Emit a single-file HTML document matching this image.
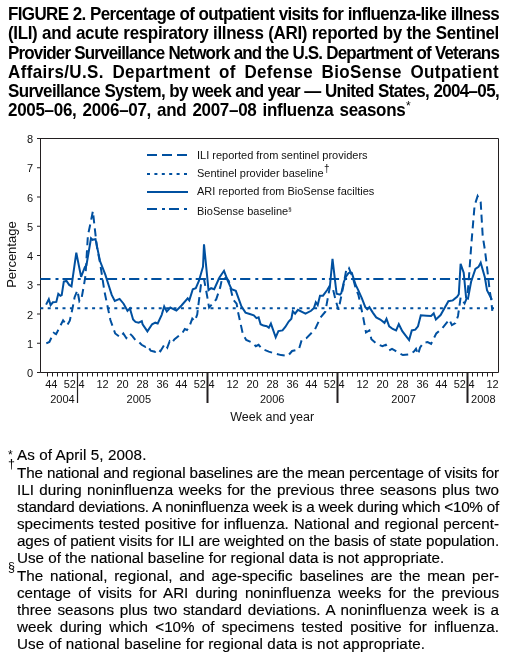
<!DOCTYPE html><html><head><meta charset="utf-8"><style>
html,body{margin:0;padding:0;background:#fff;}
body{width:511px;height:662px;position:relative;overflow:hidden;color:#000;font-family:"Liberation Sans",sans-serif;}
.t{will-change:transform;position:absolute;left:7.8px;width:491px;font-weight:bold;font-size:17px;line-height:19px;white-space:nowrap;text-align:justify;text-align-last:justify;}
.f{-webkit-text-stroke:0.15px #000;will-change:transform;position:absolute;left:17px;width:482px;font-size:15.2px;line-height:17px;white-space:nowrap;}
.j{text-align:justify;text-align-last:justify;}
.s{will-change:transform;position:absolute;font-size:11px;}
svg{position:absolute;left:0;top:0;will-change:transform;}
.ax{font-size:11px;fill:#111;}
.lab{font-size:12.5px;fill:#111;}
.leg{font-size:11px;fill:#111;}

</style></head><body>
<div class="t" style="top:5.11px;letter-spacing:-0.65px;transform-origin:0 15.49px;transform:scaleY(1.055)">FIGURE 2. Percentage of outpatient visits for influenza-like illness</div>
<div class="t" style="top:24.35px;letter-spacing:-0.35px;transform-origin:0 15.49px;transform:scaleY(1.055)">(ILI) and acute respiratory illness (ARI) reported by the Sentinel</div>
<div class="t" style="top:43.59px;letter-spacing:-0.85px;transform-origin:0 15.49px;transform:scaleY(1.055)">Provider Surveillance Network and the U.S. Department of Veterans</div>
<div class="t" style="top:62.83px;letter-spacing:0.35px;transform-origin:0 15.49px;transform:scaleY(1.055)">Affairs/U.S. Department of Defense BioSense Outpatient</div>
<div class="t" style="top:82.07px;letter-spacing:-0.67px;transform-origin:0 15.49px;transform:scaleY(1.055)">Surveillance System, by week and year — United States, 2004–05,</div>
<div class="t" style="top:101.31px;letter-spacing:-0.3px;word-spacing:1.6px;text-align:left;text-align-last:left;transform-origin:0 15.49px;transform:scaleY(1.055)">2005–06, 2006–07, and 2007–08 influenza seasons</div>
<div class="s" style="left:405.5px;top:99px;font-size:12px;font-weight:normal">*</div>
<div class="f" style="top:445.82px;letter-spacing:0.1px;transform-origin:0 13.78px;transform:none;">As of April 5, 2008.</div>
<div class="s" style="left:8.0px;top:447.62px;font-size:12px">*</div>
<div class="f j" style="top:463.62px;letter-spacing:-0.13px;transform-origin:0 13.78px;transform:none;">The national and regional baselines are the mean percentage of visits for</div>
<div class="f j" style="top:480.78px;letter-spacing:0px;transform-origin:0 13.78px;transform:none;">ILI during noninfluenza weeks for the previous three seasons plus two</div>
<div class="f j" style="top:497.94px;letter-spacing:-0.21px;transform-origin:0 13.78px;transform:none;">standard deviations. A noninfluenza week is a week during which &lt;10% of</div>
<div class="f j" style="top:515.10px;letter-spacing:0px;transform-origin:0 13.78px;transform:none;">speciments tested positive for influenza. National and regional percent-</div>
<div class="f j" style="top:532.26px;letter-spacing:-0.13px;transform-origin:0 13.78px;transform:none;">ages of patient visits for ILI are weighted on the basis of state population.</div>
<div class="f" style="top:549.42px;letter-spacing:0px;transform-origin:0 13.78px;transform:none;">Use of the national baseline for regional data is not appropriate.</div>
<div class="f j" style="top:566.58px;letter-spacing:0px;transform-origin:0 13.78px;transform:none;">The national, regional, and age-specific baselines are the mean per-</div>
<div class="f j" style="top:583.74px;letter-spacing:0px;transform-origin:0 13.78px;transform:none;">centage of visits for ARI during noninfluenza weeks for the previous</div>
<div class="f j" style="top:600.90px;letter-spacing:0px;transform-origin:0 13.78px;transform:none;">three seasons plus two standard deviations. A noninfluenza week is a</div>
<div class="f j" style="top:618.06px;letter-spacing:0px;transform-origin:0 13.78px;transform:none;">week during which &lt;10% of specimens tested positive for influenza.</div>
<div class="f" style="top:635.22px;letter-spacing:0.1px;transform-origin:0 13.78px;transform:none;">Use of national baseline for regional data is not appropriate.</div>
<div class="s" style="left:8.3px;top:457.12px;font-size:12.5px">†</div>
<div class="s" style="left:8.0px;top:560.38px;font-size:12.5px">§</div>
<svg width="511" height="662" viewBox="0 0 511 662" style="font-family:'Liberation Sans',sans-serif"><path d="M40.5 138 V372.5 H498.5 V138.5 H40" fill="none" stroke="#231f20" stroke-width="1"/>
<line x1="37" y1="372.5" x2="40.5" y2="372.5" stroke="#231f20" stroke-width="1"/>
<text x="33" y="377.10" text-anchor="end" class="ax">0</text>
<line x1="37" y1="343.25" x2="40.5" y2="343.25" stroke="#231f20" stroke-width="1"/>
<text x="33" y="347.85" text-anchor="end" class="ax">1</text>
<line x1="37" y1="314.0" x2="40.5" y2="314.0" stroke="#231f20" stroke-width="1"/>
<text x="33" y="318.60" text-anchor="end" class="ax">2</text>
<line x1="37" y1="284.75" x2="40.5" y2="284.75" stroke="#231f20" stroke-width="1"/>
<text x="33" y="289.35" text-anchor="end" class="ax">3</text>
<line x1="37" y1="255.5" x2="40.5" y2="255.5" stroke="#231f20" stroke-width="1"/>
<text x="33" y="260.10" text-anchor="end" class="ax">4</text>
<line x1="37" y1="226.25" x2="40.5" y2="226.25" stroke="#231f20" stroke-width="1"/>
<text x="33" y="230.85" text-anchor="end" class="ax">5</text>
<line x1="37" y1="197.0" x2="40.5" y2="197.0" stroke="#231f20" stroke-width="1"/>
<text x="33" y="201.60" text-anchor="end" class="ax">6</text>
<line x1="37" y1="167.75" x2="40.5" y2="167.75" stroke="#231f20" stroke-width="1"/>
<text x="33" y="172.35" text-anchor="end" class="ax">7</text>
<line x1="37" y1="138.5" x2="40.5" y2="138.5" stroke="#231f20" stroke-width="1"/>
<text x="33" y="143.10" text-anchor="end" class="ax">8</text>
<line x1="47.5" y1="372.5" x2="47.5" y2="376.5" stroke="#231f20" stroke-width="1"/>
<line x1="52.5" y1="372.5" x2="52.5" y2="376.5" stroke="#231f20" stroke-width="1"/>
<line x1="57.5" y1="372.5" x2="57.5" y2="376.5" stroke="#231f20" stroke-width="1"/>
<line x1="62.5" y1="372.5" x2="62.5" y2="376.5" stroke="#231f20" stroke-width="1"/>
<line x1="67.5" y1="372.5" x2="67.5" y2="376.5" stroke="#231f20" stroke-width="1"/>
<line x1="72.5" y1="372.5" x2="72.5" y2="376.5" stroke="#231f20" stroke-width="1"/>
<line x1="77.5" y1="372.5" x2="77.5" y2="403" stroke="#231f20" stroke-width="1.2"/>
<line x1="82.5" y1="372.5" x2="82.5" y2="376.5" stroke="#231f20" stroke-width="1"/>
<line x1="87.5" y1="372.5" x2="87.5" y2="376.5" stroke="#231f20" stroke-width="1"/>
<line x1="92.5" y1="372.5" x2="92.5" y2="376.5" stroke="#231f20" stroke-width="1"/>
<line x1="97.5" y1="372.5" x2="97.5" y2="376.5" stroke="#231f20" stroke-width="1"/>
<line x1="102.5" y1="372.5" x2="102.5" y2="376.5" stroke="#231f20" stroke-width="1"/>
<line x1="107.5" y1="372.5" x2="107.5" y2="376.5" stroke="#231f20" stroke-width="1"/>
<line x1="112.5" y1="372.5" x2="112.5" y2="376.5" stroke="#231f20" stroke-width="1"/>
<line x1="117.5" y1="372.5" x2="117.5" y2="376.5" stroke="#231f20" stroke-width="1"/>
<line x1="122.5" y1="372.5" x2="122.5" y2="376.5" stroke="#231f20" stroke-width="1"/>
<line x1="127.5" y1="372.5" x2="127.5" y2="376.5" stroke="#231f20" stroke-width="1"/>
<line x1="132.5" y1="372.5" x2="132.5" y2="376.5" stroke="#231f20" stroke-width="1"/>
<line x1="137.5" y1="372.5" x2="137.5" y2="376.5" stroke="#231f20" stroke-width="1"/>
<line x1="142.5" y1="372.5" x2="142.5" y2="376.5" stroke="#231f20" stroke-width="1"/>
<line x1="147.5" y1="372.5" x2="147.5" y2="376.5" stroke="#231f20" stroke-width="1"/>
<line x1="152.5" y1="372.5" x2="152.5" y2="376.5" stroke="#231f20" stroke-width="1"/>
<line x1="157.5" y1="372.5" x2="157.5" y2="376.5" stroke="#231f20" stroke-width="1"/>
<line x1="162.5" y1="372.5" x2="162.5" y2="376.5" stroke="#231f20" stroke-width="1"/>
<line x1="167.5" y1="372.5" x2="167.5" y2="376.5" stroke="#231f20" stroke-width="1"/>
<line x1="172.5" y1="372.5" x2="172.5" y2="376.5" stroke="#231f20" stroke-width="1"/>
<line x1="177.5" y1="372.5" x2="177.5" y2="376.5" stroke="#231f20" stroke-width="1"/>
<line x1="182.5" y1="372.5" x2="182.5" y2="376.5" stroke="#231f20" stroke-width="1"/>
<line x1="187.5" y1="372.5" x2="187.5" y2="376.5" stroke="#231f20" stroke-width="1"/>
<line x1="192.5" y1="372.5" x2="192.5" y2="376.5" stroke="#231f20" stroke-width="1"/>
<line x1="197.5" y1="372.5" x2="197.5" y2="376.5" stroke="#231f20" stroke-width="1"/>
<line x1="202.5" y1="372.5" x2="202.5" y2="376.5" stroke="#231f20" stroke-width="1"/>
<line x1="207.5" y1="372.5" x2="207.5" y2="403" stroke="#231f20" stroke-width="2"/>
<line x1="212.5" y1="372.5" x2="212.5" y2="376.5" stroke="#231f20" stroke-width="1"/>
<line x1="217.5" y1="372.5" x2="217.5" y2="376.5" stroke="#231f20" stroke-width="1"/>
<line x1="222.5" y1="372.5" x2="222.5" y2="376.5" stroke="#231f20" stroke-width="1"/>
<line x1="227.5" y1="372.5" x2="227.5" y2="376.5" stroke="#231f20" stroke-width="1"/>
<line x1="232.5" y1="372.5" x2="232.5" y2="376.5" stroke="#231f20" stroke-width="1"/>
<line x1="237.5" y1="372.5" x2="237.5" y2="376.5" stroke="#231f20" stroke-width="1"/>
<line x1="242.5" y1="372.5" x2="242.5" y2="376.5" stroke="#231f20" stroke-width="1"/>
<line x1="247.5" y1="372.5" x2="247.5" y2="376.5" stroke="#231f20" stroke-width="1"/>
<line x1="252.5" y1="372.5" x2="252.5" y2="376.5" stroke="#231f20" stroke-width="1"/>
<line x1="257.5" y1="372.5" x2="257.5" y2="376.5" stroke="#231f20" stroke-width="1"/>
<line x1="262.5" y1="372.5" x2="262.5" y2="376.5" stroke="#231f20" stroke-width="1"/>
<line x1="267.5" y1="372.5" x2="267.5" y2="376.5" stroke="#231f20" stroke-width="1"/>
<line x1="272.5" y1="372.5" x2="272.5" y2="376.5" stroke="#231f20" stroke-width="1"/>
<line x1="277.5" y1="372.5" x2="277.5" y2="376.5" stroke="#231f20" stroke-width="1"/>
<line x1="282.5" y1="372.5" x2="282.5" y2="376.5" stroke="#231f20" stroke-width="1"/>
<line x1="287.5" y1="372.5" x2="287.5" y2="376.5" stroke="#231f20" stroke-width="1"/>
<line x1="292.5" y1="372.5" x2="292.5" y2="376.5" stroke="#231f20" stroke-width="1"/>
<line x1="297.5" y1="372.5" x2="297.5" y2="376.5" stroke="#231f20" stroke-width="1"/>
<line x1="302.5" y1="372.5" x2="302.5" y2="376.5" stroke="#231f20" stroke-width="1"/>
<line x1="307.5" y1="372.5" x2="307.5" y2="376.5" stroke="#231f20" stroke-width="1"/>
<line x1="312.5" y1="372.5" x2="312.5" y2="376.5" stroke="#231f20" stroke-width="1"/>
<line x1="317.5" y1="372.5" x2="317.5" y2="376.5" stroke="#231f20" stroke-width="1"/>
<line x1="322.5" y1="372.5" x2="322.5" y2="376.5" stroke="#231f20" stroke-width="1"/>
<line x1="327.5" y1="372.5" x2="327.5" y2="376.5" stroke="#231f20" stroke-width="1"/>
<line x1="332.5" y1="372.5" x2="332.5" y2="376.5" stroke="#231f20" stroke-width="1"/>
<line x1="337.5" y1="372.5" x2="337.5" y2="403" stroke="#231f20" stroke-width="2"/>
<line x1="342.5" y1="372.5" x2="342.5" y2="376.5" stroke="#231f20" stroke-width="1"/>
<line x1="347.5" y1="372.5" x2="347.5" y2="376.5" stroke="#231f20" stroke-width="1"/>
<line x1="352.5" y1="372.5" x2="352.5" y2="376.5" stroke="#231f20" stroke-width="1"/>
<line x1="357.5" y1="372.5" x2="357.5" y2="376.5" stroke="#231f20" stroke-width="1"/>
<line x1="362.5" y1="372.5" x2="362.5" y2="376.5" stroke="#231f20" stroke-width="1"/>
<line x1="367.5" y1="372.5" x2="367.5" y2="376.5" stroke="#231f20" stroke-width="1"/>
<line x1="372.5" y1="372.5" x2="372.5" y2="376.5" stroke="#231f20" stroke-width="1"/>
<line x1="377.5" y1="372.5" x2="377.5" y2="376.5" stroke="#231f20" stroke-width="1"/>
<line x1="382.5" y1="372.5" x2="382.5" y2="376.5" stroke="#231f20" stroke-width="1"/>
<line x1="387.5" y1="372.5" x2="387.5" y2="376.5" stroke="#231f20" stroke-width="1"/>
<line x1="392.5" y1="372.5" x2="392.5" y2="376.5" stroke="#231f20" stroke-width="1"/>
<line x1="397.5" y1="372.5" x2="397.5" y2="376.5" stroke="#231f20" stroke-width="1"/>
<line x1="402.5" y1="372.5" x2="402.5" y2="376.5" stroke="#231f20" stroke-width="1"/>
<line x1="407.5" y1="372.5" x2="407.5" y2="376.5" stroke="#231f20" stroke-width="1"/>
<line x1="412.5" y1="372.5" x2="412.5" y2="376.5" stroke="#231f20" stroke-width="1"/>
<line x1="417.5" y1="372.5" x2="417.5" y2="376.5" stroke="#231f20" stroke-width="1"/>
<line x1="422.5" y1="372.5" x2="422.5" y2="376.5" stroke="#231f20" stroke-width="1"/>
<line x1="427.5" y1="372.5" x2="427.5" y2="376.5" stroke="#231f20" stroke-width="1"/>
<line x1="432.5" y1="372.5" x2="432.5" y2="376.5" stroke="#231f20" stroke-width="1"/>
<line x1="437.5" y1="372.5" x2="437.5" y2="376.5" stroke="#231f20" stroke-width="1"/>
<line x1="442.5" y1="372.5" x2="442.5" y2="376.5" stroke="#231f20" stroke-width="1"/>
<line x1="447.5" y1="372.5" x2="447.5" y2="376.5" stroke="#231f20" stroke-width="1"/>
<line x1="452.5" y1="372.5" x2="452.5" y2="376.5" stroke="#231f20" stroke-width="1"/>
<line x1="457.5" y1="372.5" x2="457.5" y2="376.5" stroke="#231f20" stroke-width="1"/>
<line x1="462.5" y1="372.5" x2="462.5" y2="376.5" stroke="#231f20" stroke-width="1"/>
<line x1="467.5" y1="372.5" x2="467.5" y2="403" stroke="#231f20" stroke-width="2"/>
<line x1="472.5" y1="372.5" x2="472.5" y2="376.5" stroke="#231f20" stroke-width="1"/>
<line x1="477.5" y1="372.5" x2="477.5" y2="376.5" stroke="#231f20" stroke-width="1"/>
<line x1="482.5" y1="372.5" x2="482.5" y2="376.5" stroke="#231f20" stroke-width="1"/>
<line x1="487.5" y1="372.5" x2="487.5" y2="376.5" stroke="#231f20" stroke-width="1"/>
<line x1="492.5" y1="372.5" x2="492.5" y2="376.5" stroke="#231f20" stroke-width="1"/>
<text x="51.3" y="387.8" text-anchor="middle" class="ax">44</text>
<text x="75.9" y="387.8" text-anchor="end" class="ax">52</text>
<text x="78.4" y="387.8" text-anchor="start" class="ax">4</text>
<text x="102.5" y="387.8" text-anchor="middle" class="ax">12</text>
<text x="122.5" y="387.8" text-anchor="middle" class="ax">20</text>
<text x="142.5" y="387.8" text-anchor="middle" class="ax">28</text>
<text x="162.5" y="387.8" text-anchor="middle" class="ax">36</text>
<text x="181.3" y="387.8" text-anchor="middle" class="ax">44</text>
<text x="205.9" y="387.8" text-anchor="end" class="ax">52</text>
<text x="208.4" y="387.8" text-anchor="start" class="ax">4</text>
<text x="232.5" y="387.8" text-anchor="middle" class="ax">12</text>
<text x="252.5" y="387.8" text-anchor="middle" class="ax">20</text>
<text x="272.5" y="387.8" text-anchor="middle" class="ax">28</text>
<text x="292.5" y="387.8" text-anchor="middle" class="ax">36</text>
<text x="311.3" y="387.8" text-anchor="middle" class="ax">44</text>
<text x="335.9" y="387.8" text-anchor="end" class="ax">52</text>
<text x="338.4" y="387.8" text-anchor="start" class="ax">4</text>
<text x="362.5" y="387.8" text-anchor="middle" class="ax">12</text>
<text x="382.5" y="387.8" text-anchor="middle" class="ax">20</text>
<text x="402.5" y="387.8" text-anchor="middle" class="ax">28</text>
<text x="422.5" y="387.8" text-anchor="middle" class="ax">36</text>
<text x="441.3" y="387.8" text-anchor="middle" class="ax">44</text>
<text x="465.9" y="387.8" text-anchor="end" class="ax">52</text>
<text x="468.4" y="387.8" text-anchor="start" class="ax">4</text>
<text x="492.5" y="387.8" text-anchor="middle" class="ax">12</text>
<text x="62.5" y="403.2" text-anchor="middle" class="ax">2004</text>
<text x="138.8" y="403.2" text-anchor="middle" class="ax">2005</text>
<text x="272.2" y="403.2" text-anchor="middle" class="ax">2006</text>
<text x="403.6" y="403.2" text-anchor="middle" class="ax">2007</text>
<text x="483.3" y="403.2" text-anchor="middle" class="ax">2008</text>
<text x="272.2" y="421.2" text-anchor="middle" class="lab">Week and year</text>
<text transform="translate(16.2 254.6) rotate(-90)" text-anchor="middle" class="lab" style="font-size:13px">Percentage</text>
<line x1="40.3" y1="278.90" x2="494" y2="278.90" stroke="#0050a0" stroke-width="2" stroke-dasharray="10.2 5 3 4"/>
<line x1="40.3" y1="308.15" x2="494" y2="308.15" stroke="#0050a0" stroke-width="2" stroke-dasharray="3 4.4"/>
<polyline points="46.1,304.6 48.8,299.2 50.6,305.1 52.9,302.3 56.3,301.9 58.3,293.8 60.4,295.8 61.7,295.1 63.8,281.5 66.5,280.9 69.2,284.9 71.5,286.3 76.3,252.7 81.1,276.9 84.9,267.0 86.4,265.5 91.0,238.3 92.5,239.8 95.5,239.1 100.0,261.0 105.3,274.6 107.7,282.2 111.7,294.9 114.8,301.0 119.6,298.9 123.6,303.7 127.5,310.8 129.9,308.4 133.1,319.5 135.5,321.9 138.7,322.7 141.8,321.1 142.6,324.3 147.4,331.4 152.1,324.3 155.3,322.7 157.7,323.5 161.7,314.8 164.2,306.5 166.8,311.6 170.3,307.6 176.4,310.6 181.5,305.5 187.7,298.4 189.3,300.4 192.8,289.2 195.8,288.2 198.9,281.0 203.0,266.7 204.0,244.3 208.5,290.2 211.1,288.2 214.2,289.2 219.3,277.8 224.0,270.8 228.0,281.3 231.5,289.1 235.8,290.8 241.4,306.4 245.5,312.6 249.7,314.0 253.8,315.3 256.5,318.1 258.6,317.4 260.6,324.2 263.4,325.6 266.8,326.3 268.8,327.7 270.9,323.6 275.7,337.3 278.4,331.1 282.5,330.4 285.3,327.0 288.7,321.5 291.4,318.8 292.8,311.2 295.1,313.6 297.9,309.8 305.5,313.6 311.1,310.8 314.0,307.9 315.8,302.3 317.7,305.1 320.0,295.7 323.0,295.7 327.2,290.0 330.0,285.3 332.5,258.9 336.6,293.8 340.0,294.7 341.3,293.1 343.9,281.7 346.1,276.4 348.3,273.3 350.1,272.4 351.8,272.9 354.0,279.9 355.8,285.2 358.0,289.6 361.8,298.2 365.3,307.1 367.3,309.2 369.4,307.1 372.8,312.6 376.2,317.4 380.3,319.5 384.5,322.9 386.5,318.8 389.2,326.3 392.7,329.0 396.1,330.4 398.8,324.2 402.3,331.1 409.1,340.0 411.8,330.4 415.3,329.7 418.0,326.3 420.8,315.3 426.7,315.7 431.1,316.0 433.7,313.4 435.9,319.5 440.6,315.1 448.4,301.2 452.8,300.4 457.1,296.9 458.8,294.3 460.6,263.9 463.7,272.6 466.1,297.6 468.0,298.6 471.1,281.7 475.4,269.0 478.5,266.9 480.7,262.7 484.9,277.5 487.0,290.2 489.1,294.4 492.0,299.7" fill="none" stroke="#0050a0" stroke-width="2" stroke-linejoin="miter" stroke-miterlimit="3"/>
<polyline points="46.3,343.4 49.4,341.9 53.7,332.9 56.1,334.1 58.4,329.7 63.1,320.4 67.0,325.4 69.8,320.7 72.6,308.0 74.6,297.2 77.4,290.4 79.4,301.3 81.4,299.2 84.2,283.6 85.5,275.4 87.9,235.3 90.2,224.7 92.9,211.1 94.7,227.8 97.0,247.4 100.0,262.5 104.5,291.7 110.4,320.0 115.2,333.5 120.1,337.2 123.3,333.5 126.3,338.0 129.8,333.5 132.4,336.1 135.7,340.5 138.4,341.5 141.6,344.8 145.4,346.9 147.5,345.8 150.7,350.7 155.0,351.8 157.7,349.1 160.4,351.2 164.8,344.1 167.3,347.6 169.7,341.2 171.7,343.1 174.6,339.2 182.5,332.8 184.8,329.0 187.0,330.0 189.4,326.4 192.3,318.6 194.8,321.0 197.2,314.6 200.9,285.1 204.0,279.0 207.0,295.3 209.1,307.6 216.2,299.4 220.3,287.1 222.0,278.7 226.3,277.8 228.9,281.3 233.2,299.6 236.6,303.7 238.0,311.9 242.8,333.8 246.2,340.0 252.4,342.7 255.8,346.2 258.6,344.8 262.0,348.9 268.8,351.6 275.7,353.7 281.2,355.1 288.0,355.8 292.1,351.0 298.9,349.4 301.7,340.0 306.4,338.1 314.9,329.6 320.6,317.4 325.3,311.7 330.0,286.2 332.5,287.2 335.7,300.4 338.5,309.8 343.5,285.2 345.7,272.9 346.6,268.0 348.8,267.6 350.5,272.0 353.2,279.0 355.8,288.7 358.4,294.9 361.2,307.8 363.2,317.4 366.0,332.5 369.4,330.4 371.4,339.3 376.9,344.1 382.4,346.2 385.8,344.8 389.2,350.3 392.0,348.9 394.7,350.3 398.8,353.0 402.9,355.1 409.8,354.4 413.9,351.6 416.0,348.9 418.0,354.4 420.1,347.5 423.5,342.7 427.6,342.1 431.1,343.8 436.3,333.4 442.3,328.2 449.3,319.5 451.9,325.1 455.4,323.0 458.0,316.0 460.6,297.6 464.6,303.5 467.4,296.5 469.0,276.4 471.5,242.1 474.6,205.4 477.6,196.2 480.7,202.3 482.7,236.0 484.9,250.0 486.5,262.7 488.1,276.4 489.6,290.2 491.2,299.7 492.3,310.8" fill="none" stroke="#0050a0" stroke-width="2" stroke-dasharray="8 5" stroke-linejoin="miter" stroke-miterlimit="3"/>
<line x1="147" y1="155" x2="188" y2="155" stroke="#0050a0" stroke-width="2" stroke-dasharray="10 5"/>
<line x1="147" y1="174" x2="188" y2="174" stroke="#0050a0" stroke-width="2" stroke-dasharray="3 4.4"/>
<line x1="147" y1="192" x2="188" y2="192" stroke="#0050a0" stroke-width="2"/>
<line x1="147" y1="209" x2="188" y2="209" stroke="#0050a0" stroke-width="2" stroke-dasharray="10 5 3 4"/>
<text x="197" y="159.2" class="leg">ILI reported from sentinel providers</text>
<text x="197" y="176.8" class="leg">Sentinel provider baseline<tspan dx="0.5" dy="-4.5" font-size="10">†</tspan></text>
<text x="197" y="194.8" class="leg">ARI reported from BioSense facilties</text>
<text x="197" y="214.9" class="leg">BioSense baseline<tspan dy="-4" font-size="6">§</tspan></text></svg>
</body></html>
